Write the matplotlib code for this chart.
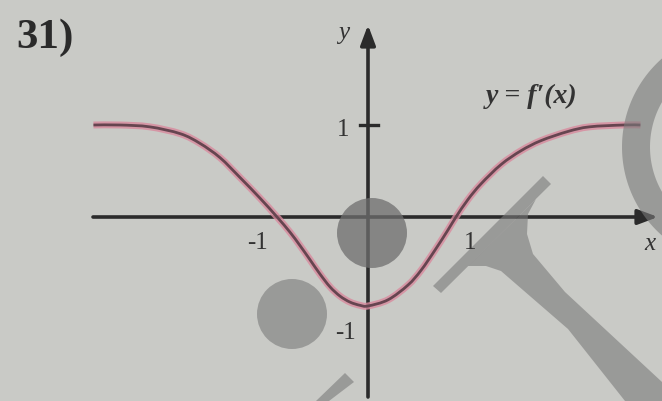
import numpy as np
import matplotlib
matplotlib.use("Agg")
import matplotlib.pyplot as plt
from matplotlib.path import Path
from matplotlib.patches import PathPatch, Circle, Wedge, Polygon

# ---- data ----
x_vals = [-2.59, -2.34, -2.06, -1.77, -1.585, -1.396, -1.208, -1.019, -0.858, -0.736, -0.642,
          -0.547, -0.453, -0.358, -0.264, -0.170, -0.075, 0.0,
          0.189, 0.377, 0.500, 0.632, 0.755, 0.830, 0.943, 1.066, 1.255, 1.443, 1.632,
          1.887, 2.09, 2.41, 2.57]
y_vals = [1.00, 1.00, 0.98, 0.905, 0.80, 0.645, 0.43, 0.205, 0.0, -0.165, -0.31,
          -0.465, -0.62, -0.76, -0.86, -0.925, -0.96, -0.967,
          -0.90, -0.74, -0.58, -0.36, -0.14, 0.0, 0.19, 0.36, 0.57, 0.72, 0.83,
          0.93, 0.98, 1.00, 1.00]
x_tick_labels = {-1: "-1", 1: "1"}
y_tick_labels = {1: "1", -1: "-1"}
title = "31)"
curve_label = "y = f\u2032(x)"

BG = "#c9cac6"
AX = "#2b2b2b"
TXT = "#333333"
MARK = "#7a7a7a"

fig = plt.figure(figsize=(6.62, 4.02), dpi=100, facecolor=BG)
ax = fig.add_axes([0, 0, 1, 1])
ax.set_facecolor(BG)
# pixel mapping: origin at (368,218), 106 px per x unit, 92 px per y unit
ax.set_xlim((0 - 368) / 106, (662 - 368) / 106)
ax.set_ylim((218 - 402) / 92, (218 - 0) / 92)
ax.axis("off")

# smooth curve through the read points (Catmull-Rom rendered as cubic Bezier)
pts = np.column_stack([x_vals, y_vals])
verts = [pts[0]]
codes = [Path.MOVETO]
for i in range(len(pts) - 1):
    p0 = pts[i - 1] if i > 0 else pts[i]
    p1 = pts[i]
    p2 = pts[i + 1]
    p3 = pts[i + 2] if i + 2 < len(pts) else pts[i + 1]
    c1 = p1 + (p2 - p0) / 6
    c2 = p2 - (p3 - p1) / 6
    verts += [c1, c2, p2]
    codes += [Path.CURVE4] * 3
path = Path(verts, codes)
ax.add_patch(PathPatch(path, fill=False, lw=5, edgecolor="#d9899d", alpha=0.8,
                       capstyle="butt", zorder=3))
ax.add_patch(PathPatch(path, fill=False, lw=2.0, edgecolor="#664550",
                       capstyle="butt", zorder=4))

# axes with arrows
x0, x1 = (93 - 368) / 106, (658 - 368) / 106
y0, y1 = (218 - 398) / 92, (218 - 26) / 92
ax.annotate("", xy=(x1, 0), xytext=(x0, 0),
            arrowprops=dict(arrowstyle="-|>,head_length=1.2,head_width=0.45",
                            color=AX, lw=2.6, shrinkA=0, shrinkB=0), zorder=2)
ax.annotate("", xy=(0, y1), xytext=(0, y0),
            arrowprops=dict(arrowstyle="-|>,head_length=1.2,head_width=0.45",
                            color=AX, lw=2.6, shrinkA=0, shrinkB=0), zorder=2)
# y tick at 1
ax.plot([-8 / 106, 10 / 106], [1, 1], color=AX, lw=2.4, zorder=2)

serif = ["Liberation Serif", "DejaVu Serif"]
ax.text((258 - 368) / 106, (218 - 243) / 92, x_tick_labels[-1], family=serif, fontsize=18,
        ha="center", va="center", color=TXT, zorder=6)
ax.text((470 - 368) / 106, (218 - 243) / 92, x_tick_labels[1], family=serif, fontsize=18,
        ha="center", va="center", color=TXT, zorder=6)
ax.text((343 - 368) / 106, (218 - 130) / 92, y_tick_labels[1], family=serif, fontsize=18,
        ha="center", va="center", color=TXT, zorder=6)
ax.text((345 - 368) / 106, (218 - 333) / 92, y_tick_labels[-1], family=serif, fontsize=18,
        ha="center", va="center", color=TXT, zorder=6)
ax.text((650 - 368) / 106, (218 - 244) / 92, "x", family=serif, style="italic",
        fontsize=18, ha="center", va="center", color=TXT, zorder=6)
ax.text((344 - 368) / 106, (218 - 33) / 92, "y", family=serif, style="italic",
        fontsize=18, ha="center", va="center", color=TXT, zorder=6)
ax.text((532 - 368) / 106, (218 - 96) / 92, curve_label, family=serif, style="italic",
        fontweight="bold", fontsize=20, ha="center", va="center", color=TXT, zorder=6)
ax.text((45 - 368) / 106, (218 - 38) / 92, title, family=serif, fontweight="bold",
        fontsize=31, ha="center", va="center", color="#2a2a2a", zorder=6)

# overlay marks (semi-transparent), positioned in pixel coordinates
px = ax.transData.inverted()
def P(x, y):
    return ((x - 368) / 106, (218 - y) / 92)

def poly(points, **kw):
    ax.add_patch(Polygon([P(x, y) for x, y in points], lw=0, zorder=5, **kw))

from matplotlib.patches import Ellipse
def ring_pts(cx, cy, r, w, n=200):
    t = np.linspace(0, 2 * np.pi, n)
    outer = [(cx + r * np.cos(a), cy + r * np.sin(a)) for a in t]
    inner = [(cx + (r - w) * np.cos(a), cy + (r - w) * np.sin(a)) for a in t[::-1]]
    return outer, inner

def circle(cx, cy, r, **kw):
    ax.add_patch(Ellipse(P(cx, cy), 2 * r / 106, 2 * r / 92, lw=0, zorder=5, **kw))

circle(372, 234, 35, color="#6e6e6e", alpha=0.75)
circle(292, 315, 35, color=MARK, alpha=0.6)
outer, inner = ring_pts(740, 148, 118, 28)
ring_path = Path([P(*p) for p in outer] + [P(*p) for p in inner],
                 [Path.MOVETO] + [Path.LINETO] * (len(outer) - 1) +
                 [Path.MOVETO] + [Path.LINETO] * (len(inner) - 1))
ax.add_patch(PathPatch(ring_path, color=MARK, alpha=0.6, lw=0, zorder=5))
poly([(543, 177), (551, 185), (441, 294), (433, 287)], color=MARK, alpha=0.6)
poly([(536, 200), (528, 215), (527, 235), (533, 255), (565, 293), (662, 383),
      (662, 402), (625, 402), (568, 330), (501, 272), (486, 267), (468, 267)],
     color=MARK, alpha=0.6)
poly([(345, 374), (354, 383), (329, 402), (316, 402)], color=MARK, alpha=0.6)

fig.savefig("out.png", dpi=100, facecolor=BG)
